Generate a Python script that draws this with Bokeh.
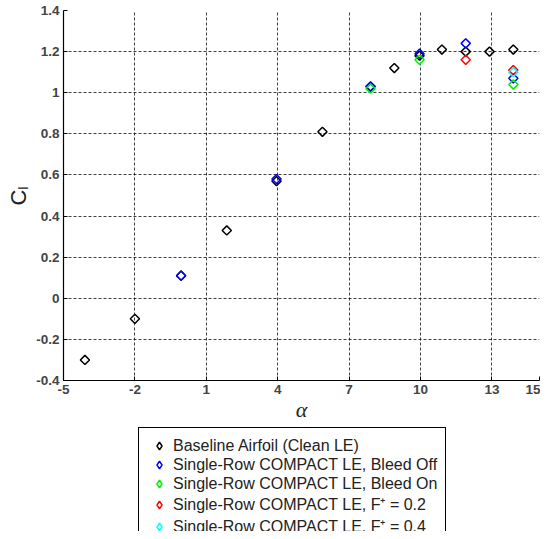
import math
from bokeh.plotting import figure
from bokeh.layouts import column
from bokeh.models import FixedTicker, Range1d, Legend, LegendItem
from bokeh.embed import file_html
from bokeh.resources import INLINE

# Data
base_alpha = [-4.1, -2.0, -0.06, 1.86, 3.95, 5.88, 7.9, 8.9, 9.96, 10.9, 11.9, 12.9, 13.9]
base_cl = [-0.30, -0.10, 0.11, 0.33, 0.57, 0.81, 1.03, 1.12, 1.18, 1.21, 1.20, 1.20, 1.21]

off_alpha = [-0.06, 3.95, 7.9, 9.96, 11.9, 13.9]
off_cl = [0.11, 0.58, 1.03, 1.19, 1.24, 1.07]

on_alpha = [7.9, 9.96, 13.9]
on_cl = [1.02, 1.16, 1.04]

f02_alpha = [11.9, 13.9]
f02_cl = [1.16, 1.11]

f04_alpha = [13.9]
f04_cl = [1.10]

x_ticks = [-5, -2, 1, 4, 7, 10, 13, 15]
y_ticks = [-0.4, -0.2, 0, 0.2, 0.4, 0.6, 0.8, 1.0, 1.2, 1.4]
y_tick_labels = ["-0.4", "-0.2", "0", "0.2", "0.4", "0.6", "0.8", "1", "1.2", "1.4"]

labels = [
    "Baseline Airfoil (Clean LE)",
    "Single-Row COMPACT LE, Bleed Off",
    "Single-Row COMPACT LE, Bleed On",
    "Single-Row COMPACT LE, F\u207a = 0.2",
    "Single-Row COMPACT LE, F\u207a = 0.4",
]
colors = ["black", "#0000ff", "#00ee00", "#ff0000", "#00ffff"]

series = [(base_alpha, base_cl), (off_alpha, off_cl), (on_alpha, on_cl),
          (f02_alpha, f02_cl), (f04_alpha, f04_cl)]

p = figure(width=540, height=424, output_backend="svg", toolbar_location=None,
           x_range=Range1d(-5, 15), y_range=Range1d(-0.4, 1.4),
           min_border_left=63, min_border_right=1, min_border_top=10, min_border_bottom=44)
p.outline_line_color = None
p.background_fill_color = "white"
p.border_fill_color = "white"

for (xs, ys), c in zip(series, colors):
    p.scatter(xs, ys, marker="square", angle=math.pi / 4, size=6.5,
              fill_color=None, line_color=c, line_width=1.5)

p.xaxis.ticker = FixedTicker(ticks=x_ticks)
p.yaxis.ticker = FixedTicker(ticks=y_ticks)
p.yaxis.major_label_overrides = {t: l for t, l in zip(y_ticks, y_tick_labels)}
p.xaxis.major_label_overrides = {t: str(t) for t in x_ticks}

for ax in (p.xaxis, p.yaxis):
    ax.axis_line_color = "black"
    ax.axis_line_width = 1.2
    ax.major_tick_in = 4
    ax.major_tick_out = 0
    ax.minor_tick_line_color = None
    ax.major_tick_line_color = "black"
    ax.major_label_text_font = "Liberation Sans"
    ax.major_label_text_font_size = "13.5px"
    ax.major_label_text_font_style = "bold"
    ax.major_label_text_color = "#444444"
    ax.major_label_standoff = 4

p.xaxis.axis_label = "\u03b1"
p.xaxis.axis_label_text_font = "Liberation Serif"
p.xaxis.axis_label_text_font_style = "italic"
p.xaxis.axis_label_text_font_size = "22px"
p.xaxis.axis_label_standoff = 0
p.xaxis.axis_label_text_color = "#222222"

p.yaxis.axis_label = "C\u2097"
p.yaxis.axis_label_text_font = "Liberation Sans"
p.yaxis.axis_label_text_font_style = "normal"
p.yaxis.axis_label_text_font_size = "22px"
p.yaxis.axis_label_standoff = 2
p.yaxis.axis_label_text_color = "#222222"

for g in (p.xgrid, p.ygrid):
    g.grid_line_color = "black"
    g.grid_line_alpha = 0.75
    g.grid_line_dash = "3 2"
    g.grid_line_width = 1

# Legend panel: a second figure whose (hidden) renderers carry the same series
p2 = figure(width=540, height=107, output_backend="svg", toolbar_location=None,
            x_axis_type=None, y_axis_type=None,
            x_range=Range1d(100, 101), y_range=Range1d(100, 101),
            min_border_left=0, min_border_right=0, min_border_top=0, min_border_bottom=0)
p2.outline_line_color = None
p2.xgrid.visible = False
p2.ygrid.visible = False
items = []
for (xs, ys), c, lab in zip(series, colors, labels):
    r = p2.scatter(xs, ys, marker="diamond", size=10,
                   fill_color=None, line_color=c, line_width=1.5, visible=False)
    items.append(LegendItem(label=lab, renderers=[r]))

leg = Legend(items=items, location=(75, -15))
leg.border_line_color = "black"
leg.border_line_alpha = 1
leg.border_line_width = 1
leg.background_fill_color = "white"
leg.background_fill_alpha = 1
leg.inactive_fill_alpha = 0
leg.click_policy = "none"
leg.padding = 8
leg.spacing = 0
leg.margin = 0
leg.label_height = 19
leg.glyph_height = 19
leg.glyph_width = 24
leg.label_standoff = 2
leg.label_text_font = "Liberation Sans"
leg.label_text_font_size = "16px"
leg.label_text_color = "#222222"
p2.add_layout(leg, "center")

layout = column(p, p2)
open("out.html", "w").write(file_html(layout, INLINE))
